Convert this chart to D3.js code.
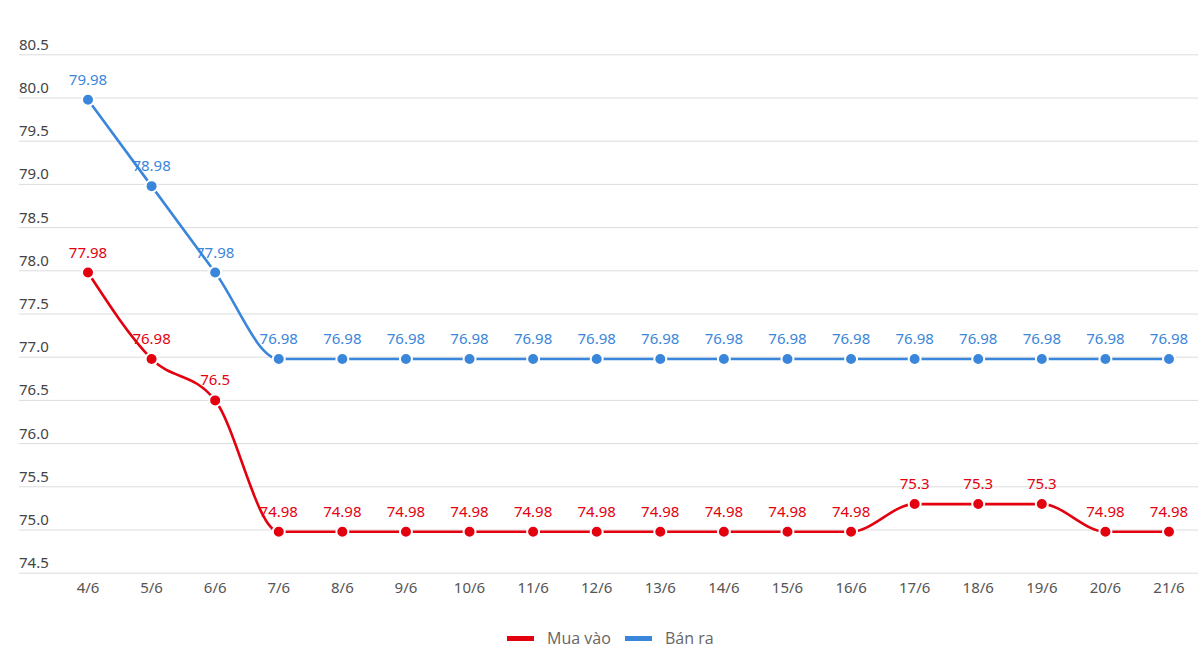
<!DOCTYPE html>
<html>
<head>
<meta charset="utf-8">
<script src="https://cdn.jsdelivr.net/npm/d3@7"></script>
<style>
  body { margin: 0; background: #fff; }
  svg { display: block; font-family: "Noto Sans", sans-serif; }
</style>
</head>
<body>
<div id="chart"></div>
<script>
const days = ["4/6","5/6","6/6","7/6","8/6","9/6","10/6","11/6","12/6","13/6","14/6","15/6","16/6","17/6","18/6","19/6","20/6","21/6"];
const muaVao = [77.98,76.98,76.5,74.98,74.98,74.98,74.98,74.98,74.98,74.98,74.98,74.98,74.98,75.3,75.3,75.3,74.98,74.98];
const banRa = [79.98,78.98,77.98,76.98,76.98,76.98,76.98,76.98,76.98,76.98,76.98,76.98,76.98,76.98,76.98,76.98,76.98,76.98];
const yTicks = [74.5,75.0,75.5,76.0,76.5,77.0,77.5,78.0,78.5,79.0,79.5,80.0,80.5];

const series = [
  {name: "Mua vào", values: muaVao, color: "#e3000f"},
  {name: "Bán ra", values: banRa, color: "#3a86db"}
];

const W = 1198, H = 671;
const svg = d3.select("#chart").append("svg").attr("width", W).attr("height", H);

const x = d3.scalePoint().domain(days).range([88, 1169]);
const y = d3.scaleLinear().domain([74.5, 80.5]).range([573.2, 54.8]);

// grid + y labels
const grid = svg.append("g");
grid.selectAll("line").data(yTicks).join("line")
  .attr("x1", 19).attr("x2", W)
  .attr("y1", d => y(d)).attr("y2", d => y(d))
  .attr("stroke", "#dcdcdc").attr("stroke-width", 1);
grid.selectAll("text").data(yTicks).join("text")
  .attr("x", 19).attr("y", d => y(d) - 5)
  .attr("fill", "#444").attr("font-size", 15)
  .text(d => d.toFixed(1));

// x axis labels
svg.append("g").selectAll("text").data(days).join("text")
  .attr("x", d => x(d)).attr("y", 593)
  .attr("text-anchor", "middle").attr("fill", "#555").attr("font-size", 15)
  .text(d => d);

const line = d3.line()
  .x((d, i) => x(days[i]))
  .y(d => y(d))
  .curve(d3.curveMonotoneX);

series.forEach(s => {
  const g = svg.append("g");
  g.append("path").datum(s.values)
    .attr("fill", "none").attr("stroke", s.color).attr("stroke-width", 2.6)
    .attr("d", line);
  g.selectAll("circle").data(s.values).join("circle")
    .attr("cx", (d, i) => x(days[i])).attr("cy", d => y(d))
    .attr("r", 6).attr("fill", s.color)
    .attr("stroke", "#fff").attr("stroke-width", 2);
  g.selectAll("text").data(s.values).join("text")
    .attr("x", (d, i) => x(days[i])).attr("y", d => y(d) - 15)
    .attr("text-anchor", "middle").attr("fill", s.color).attr("font-size", 15)
    .text(d => String(d));
});

// legend
const legend = svg.append("g").attr("font-family", "'Open Sans', sans-serif");
const lx = [507, 625];
series.forEach((s, i) => {
  legend.append("rect").attr("x", lx[i]).attr("y", 636).attr("width", 27).attr("height", 5)
    .attr("fill", s.color);
  legend.append("text").attr("x", lx[i] + 40).attr("y", 644)
    .attr("fill", "#666").attr("font-size", 16).text(s.name);
});
</script>
</body>
</html>
